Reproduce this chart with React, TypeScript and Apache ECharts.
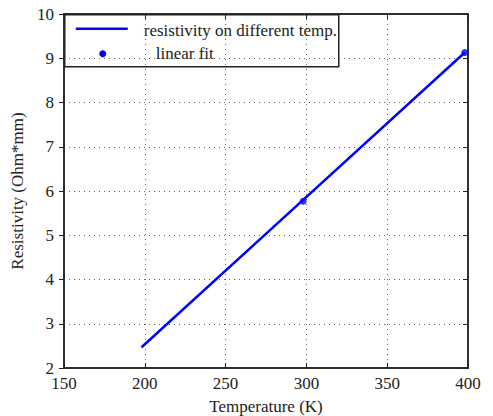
import React, { useEffect, useRef } from "react";
import * as echarts from "echarts";

const lineTemps = [198, 298, 398];
const resistivity = [2.47, 5.8, 9.13];
const fitTemps = [298, 398];
const linearFit = [5.77, 9.13];
const legendNames = ["resistivity on different temp.", "linear fit"];
const xTitle = "Temperature (K)";
const yTitle = "Resistivity (Ohm*mm)";

const FONT = "'Liberation Serif', 'Times New Roman', serif";
const INK = "#222";
const BLUE = "#0000ff";
const FS = 17;

export default function App() {
  const ref = useRef<HTMLDivElement>(null);
  useEffect(() => {
    if (!ref.current) return;
    const chart = echarts.init(ref.current, undefined, { renderer: "svg" });
    const gridLeft = 64;
    const gridTop = 14;
    chart.setOption({
      animation: false,
      backgroundColor: "#fff",
      textStyle: { fontFamily: FONT },
      grid: {
        left: gridLeft,
        top: gridTop,
        right: 25,
        bottom: 48,
        containLabel: false,
        outerBoundsMode: "none",
        show: true,
        borderColor: INK,
        borderWidth: 1.5,
        backgroundColor: "transparent",
      },
      xAxis: [
        {
          type: "value",
          min: 150,
          max: 400,
          interval: 50,
          name: xTitle,
          nameLocation: "middle",
          nameGap: 30,
          nameTextStyle: { fontFamily: FONT, fontSize: FS, color: INK },
          axisLine: { show: true, onZero: false, lineStyle: { color: INK, width: 1.5 } },
          axisTick: { show: true, inside: true, length: 5, lineStyle: { color: INK } },
          axisLabel: { fontFamily: FONT, fontSize: FS, color: INK, margin: 7 },
          splitLine: { show: true, lineStyle: { color: "#666", type: [1, 4], width: 1 } },
        },
        {
          type: "value",
          position: "top",
          min: 150,
          max: 400,
          interval: 50,
          axisLine: { show: true, onZero: false, lineStyle: { color: INK, width: 1.5 } },
          axisTick: { show: true, inside: true, length: 5, lineStyle: { color: INK } },
          axisLabel: { show: false },
          splitLine: { show: false },
        },
      ],
      yAxis: [
        {
          type: "value",
          min: 2,
          max: 10,
          interval: 1,
          name: yTitle,
          nameLocation: "middle",
          nameGap: 31,
          nameTextStyle: { fontFamily: FONT, fontSize: FS, color: INK },
          axisLine: { show: true, onZero: false, lineStyle: { color: INK, width: 1.5 } },
          axisTick: { show: true, inside: false, length: 5, lineStyle: { color: INK } },
          axisLabel: { fontFamily: FONT, fontSize: FS, color: INK, margin: 10 },
          splitLine: { show: true, lineStyle: { color: "#666", type: [1, 4], width: 1 } },
        },
        {
          type: "value",
          position: "right",
          min: 2,
          max: 10,
          interval: 1,
          axisLine: { show: true, onZero: false, lineStyle: { color: INK, width: 1.5 } },
          axisTick: { show: true, inside: true, length: 5, lineStyle: { color: INK } },
          axisLabel: { show: false },
          splitLine: { show: false },
        },
      ],
      series: [
        {
          name: legendNames[0],
          type: "line",
          data: lineTemps.map((t, i) => [t, resistivity[i]]),
          showSymbol: false,
          lineStyle: { color: BLUE, width: 2.5 },
          itemStyle: { color: BLUE },
          z: 3,
        },
        {
          name: legendNames[1],
          type: "scatter",
          data: fitTemps.map((t, i) => [t, linearFit[i]]),
          symbolSize: 7,
          itemStyle: { color: BLUE },
          z: 4,
        },
      ],
      graphic: [
        {
          type: "group",
          left: gridLeft,
          top: gridTop,
          z: 100,
          children: [
            {
              type: "rect",
              shape: { x: 0, y: 0, width: 274, height: 52 },
              style: { fill: "#fff", stroke: INK, lineWidth: 1.5 },
            },
            {
              type: "line",
              shape: { x1: 11, y1: 14, x2: 63, y2: 14 },
              style: { stroke: BLUE, lineWidth: 2.5 },
            },
            {
              type: "text",
              x: 79,
              y: 16,
              style: {
                text: legendNames[0],
                font: `${FS}px ${FONT}`,
                fill: INK,
                verticalAlign: "middle",
              },
            },
            {
              type: "circle",
              shape: { cx: 38, cy: 39, r: 3.5 },
              style: { fill: BLUE },
            },
            {
              type: "text",
              x: 91,
              y: 39,
              style: {
                text: legendNames[1],
                font: `${FS}px ${FONT}`,
                fill: INK,
                verticalAlign: "middle",
              },
            },
          ],
        },
      ],
    });
    return () => chart.dispose();
  }, []);
  return (
    <div
      ref={ref}
      style={{ position: "absolute", left: 0, top: 0, width: 493, height: 416 }}
    />
  );
}
